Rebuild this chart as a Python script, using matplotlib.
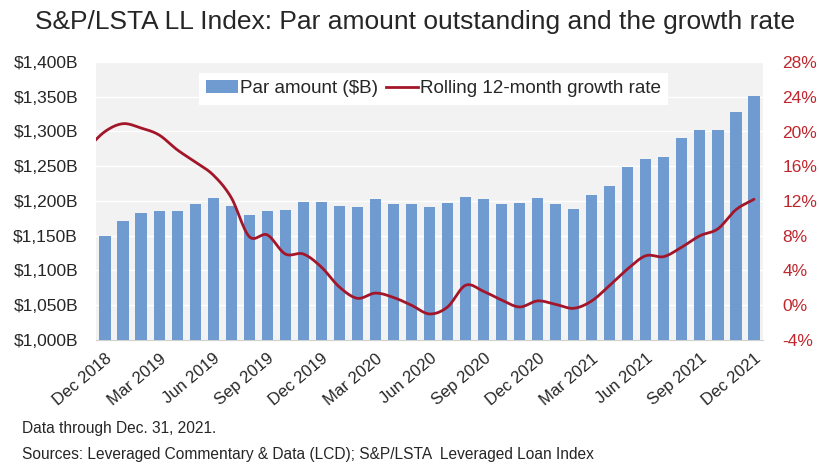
import numpy as np
import matplotlib
matplotlib.use("Agg")
import matplotlib.pyplot as plt
from matplotlib.ticker import FuncFormatter, FixedLocator
from matplotlib.patches import Patch
from matplotlib.lines import Line2D

plt.rcParams['font.family'] = ['Liberation Sans', 'DejaVu Sans']

# ---- data ----
months = ["Dec 2018", "Jan 2019", "Feb 2019", "Mar 2019", "Apr 2019", "May 2019", "Jun 2019",
          "Jul 2019", "Aug 2019", "Sep 2019", "Oct 2019", "Nov 2019", "Dec 2019",
          "Jan 2020", "Feb 2020", "Mar 2020", "Apr 2020", "May 2020", "Jun 2020",
          "Jul 2020", "Aug 2020", "Sep 2020", "Oct 2020", "Nov 2020", "Dec 2020",
          "Jan 2021", "Feb 2021", "Mar 2021", "Apr 2021", "May 2021", "Jun 2021",
          "Jul 2021", "Aug 2021", "Sep 2021", "Oct 2021", "Nov 2021", "Dec 2021"]
par_amount = [1150, 1171, 1183, 1186, 1185, 1195, 1204, 1193, 1180, 1185, 1187, 1198, 1198,
              1193, 1192, 1203, 1195, 1195, 1192, 1197, 1206, 1203, 1195, 1197, 1204,
              1195, 1188, 1209, 1222, 1249, 1260, 1263, 1290, 1302, 1302, 1328, 1351]
# rolling 12-month growth rate (%), Nov 2018 .. Dec 2021
growth_months = ["Nov 2018"] + months
growth_rate = [18.0, 20.0, 20.9, 20.4, 19.6, 17.9, 16.5, 15.0, 12.4, 7.9, 8.1, 5.9, 5.9,
               4.4, 2.1, 0.8, 1.4, 0.9, 0.0, -1.0, -0.2, 2.3, 1.6, 0.6, -0.2,
               0.5, 0.1, -0.35, 0.5, 2.3, 4.2, 5.7, 5.6, 6.7, 8.0, 8.8, 11.0, 12.2]
tick_labels = months[::3]
left_ticks = list(range(1000, 1401, 50))
right_ticks = list(range(-4, 29, 4))

title = "S&P/LSTA LL Index: Par amount outstanding and the growth rate"
note1 = "Data through Dec. 31, 2021."
note2 = "Sources: Leveraged Commentary & Data (LCD); S&P/LSTA  Leveraged Loan Index"

# ---- styles ----
bar_color = "#6f9bd1"
line_color = "#a3162a"
right_color = "#c0262d"
text_color = "#262626"
bg_color = "#f2f2f2"


def catmull_rom(x, y, n=12):
    x = np.asarray(x, float)
    y = np.asarray(y, float)
    px = np.concatenate([[2 * x[0] - x[1]], x, [2 * x[-1] - x[-2]]])
    py = np.concatenate([[2 * y[0] - y[1]], y, [2 * y[-1] - y[-2]]])
    xs, ys = [], []
    t = np.linspace(0, 1, n, endpoint=False)
    for i in range(1, len(px) - 2):
        p0, p1, p2, p3 = py[i - 1], py[i], py[i + 1], py[i + 2]
        q0, q1, q2, q3 = px[i - 1], px[i], px[i + 1], px[i + 2]
        t2, t3 = t * t, t * t * t
        ys.append(0.5 * (2 * p1 + (-p0 + p2) * t + (2 * p0 - 5 * p1 + 4 * p2 - p3) * t2 + (-p0 + 3 * p1 - 3 * p2 + p3) * t3))
        xs.append(0.5 * (2 * q1 + (-q0 + q2) * t + (2 * q0 - 5 * q1 + 4 * q2 - q3) * t2 + (-q0 + 3 * q1 - 3 * q2 + q3) * t3))
    xs.append([x[-1]])
    ys.append([y[-1]])
    return np.concatenate(xs), np.concatenate(ys)


fig = plt.figure(figsize=(8.2, 4.66), dpi=100)
ax = fig.add_axes([96 / 820, 1 - 340 / 466, (763 - 96) / 820, (340 - 62) / 466])
ax.set_facecolor(bg_color)

xb = np.arange(len(months))
ax.bar(xb, par_amount, width=0.62, color=bar_color, zorder=3)
ax.set_ylim(1000, 1400)
ax.set_xlim(-0.5, len(months) - 0.5)
ax.yaxis.set_major_locator(FixedLocator(left_ticks))
ax.yaxis.set_major_formatter(FuncFormatter(lambda v, p: f"${v:,.0f}B"))
ax.grid(axis='y', color='white', linewidth=1.0, zorder=1)
ax.set_axisbelow(True)
for s in ax.spines.values():
    s.set_visible(False)
ax.spines['bottom'].set_visible(True)
ax.spines['bottom'].set_color('#d0d0d0')
ax.tick_params(axis='y', length=0, pad=13, labelsize=12.5, labelcolor=text_color)
ax.set_xticks(xb[::3])
ax.set_xticklabels(tick_labels, rotation=40, ha='right', va='top', rotation_mode='anchor',
                   fontsize=12, color=text_color)
ax.tick_params(axis='x', length=0, pad=8)

ax2 = ax.twinx()
xg = np.arange(len(growth_months)) - 1
sx, sy = catmull_rom(xg, growth_rate)
ax2.plot(sx, sy, color=line_color, linewidth=2.0, zorder=4, solid_capstyle='round')
ax2.set_ylim(-4, 28)
ax2.set_xlim(-0.5, len(months) - 0.5)
ax2.yaxis.set_major_locator(FixedLocator(right_ticks))
ax2.yaxis.set_major_formatter(FuncFormatter(lambda v, p: f"{v:.0f}%"))
ax2.tick_params(axis='y', length=0, pad=14, labelsize=12.5, labelcolor=right_color)
for s in ax2.spines.values():
    s.set_visible(False)

handles = [Patch(facecolor=bar_color, edgecolor='none'),
           Line2D([0], [0], color=line_color, linewidth=2.0)]
leg = ax2.legend(handles, ["Par amount ($B)", "Rolling 12-month growth rate"], ncol=2,
                 loc='upper center', bbox_to_anchor=(0.506, 0.962), frameon=True, fancybox=False,
                 fontsize=13.6, handlelength=1.7, handletextpad=0.1, columnspacing=0.4,
                 borderpad=0.4, borderaxespad=0)
leg.get_frame().set_facecolor('white')
leg.get_frame().set_edgecolor('none')
leg.get_frame().set_alpha(1)
for t in leg.get_texts():
    t.set_color(text_color)

fig.text(0.506, 1 - 22 / 466, title, ha='center', va='center', fontsize=19, color=text_color)
fig.text(22 / 820, 1 - 429 / 466, note1, ha='left', va='center', fontsize=11.2, color=text_color)
fig.text(22 / 820, 1 - 455 / 466, note2, ha='left', va='center', fontsize=11.2, color=text_color)

fig.savefig("out.png", dpi=100)
